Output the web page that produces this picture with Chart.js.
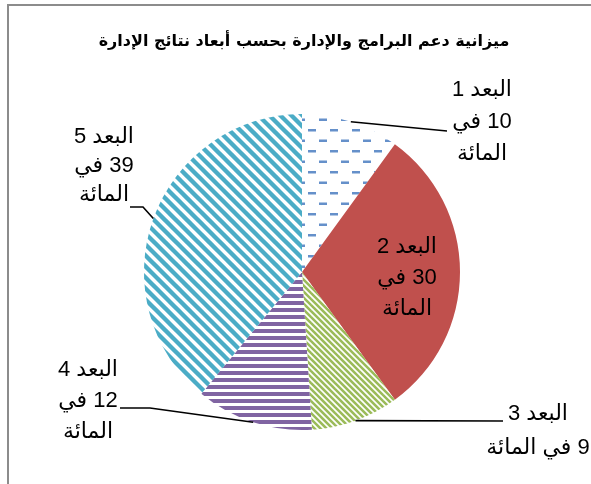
<!DOCTYPE html>
<html>
<head>
<meta charset="utf-8">
<script src="https://cdn.jsdelivr.net/npm/chart.js@4.4.1/dist/chart.umd.min.js"></script>
<style>
  html, body { margin: 0; padding: 0; background: #fff; }
  #wrap { position: relative; width: 591px; height: 484px; overflow: hidden; }
  #frame { position: absolute; left: 7px; top: 4px; right: -5px; bottom: -5px;
           border-left: 2px solid #8c8c8c; border-top: 2px solid #8c8c8c; }
  canvas { position: absolute; left: 0; top: 0; }
</style>
</head>
<body>
<div id="wrap">
  <div id="frame"></div>
  <canvas id="budgetPie" width="591" height="484"></canvas>
</div>
<script>
const chartTitle = "ميزانية دعم البرامج والإدارة بحسب أبعاد نتائج الإدارة";
const dimensionNames = ["البعد 1", "البعد 2", "البعد 3", "البعد 4", "البعد 5"];
const budgetShares = [10, 30, 9, 12, 39];
const percentWord = "المائة";
const inWord = "في";

// where each label sits (x centre, first baseline, line step) and its leader line
const labelLayout = [
  { x: 482, y: 96,  step: 32, wrap: true,  leader: [[447, 131]] },
  { x: 407, y: 253, step: 31, wrap: true,  leader: null },
  { x: 538, y: 420, step: 34, wrap: false, leader: [[503, 421]] },
  { x: 88,  y: 376, step: 31, wrap: true,  leader: [[150, 408], [120, 408]] },
  { x: 104, y: 143, step: 29, wrap: true,  leader: [[143, 207], [130, 207]] }
];

const canvas = document.getElementById("budgetPie");
const ctx = canvas.getContext("2d");

function makePattern(w, h, draw) {
  const c = document.createElement("canvas");
  c.width = w; c.height = h;
  const g = c.getContext("2d");
  g.fillStyle = "#fff";
  g.fillRect(0, 0, w, h);
  draw(g);
  return ctx.createPattern(c, "repeat");
}

// "\" stripes, spaced `gap` px horizontally, on a tile of `reps` periods
function diagonal(gap, width, color, reps) {
  const size = gap * reps;
  return makePattern(size, size, function (g) {
    g.strokeStyle = color;
    g.lineWidth = width;
    for (let k = -size - gap; k <= size + gap; k += gap) {
      g.beginPath();
      g.moveTo(k - gap, -gap);
      g.lineTo(k + size + gap, size + gap);
      g.stroke();
    }
  });
}

const fills = [
  makePattern(22, 21, function (g) {
    g.fillStyle = "#6590ca";
    g.fillRect(0, 3, 8, 2.5);
    g.fillRect(11, 13.5, 8, 2.5);
  }),
  "#c0504d",
  diagonal(6, 2.6, "#9bbb59", 4),
  makePattern(8, 7, function (g) {
    g.fillStyle = "#8064a2";
    g.fillRect(0, 0, 8, 4);
  }),
  diagonal(11, 4.4, "#4bacc6", 2)
];

function labelLines(i) {
  const v = budgetShares[i];
  if (labelLayout[i].wrap) {
    return [dimensionNames[i], v + " " + inWord, percentWord];
  }
  return [dimensionNames[i], v + " " + inWord + " " + percentWord];
}

const sliceLabels = {
  id: "sliceLabels",
  afterDatasetsDraw(chart) {
    const c = chart.ctx;
    const arcs = chart.getDatasetMeta(0).data;
    c.save();
    c.direction = "rtl";
    c.fillStyle = "#000";
    c.textAlign = "center";
    c.textBaseline = "alphabetic";

    // title, drawn here so it is not squeezed into the pie's width
    c.font = "bold 16px 'DejaVu Sans', sans-serif";
    c.fillText(chartTitle, 304, 46);

    arcs.forEach(function (arc, i) {
      const lay = labelLayout[i];
      const mid = (arc.startAngle + arc.endAngle) / 2;
      if (lay.leader) {
        c.beginPath();
        c.moveTo(arc.x + Math.cos(mid) * arc.outerRadius, arc.y + Math.sin(mid) * arc.outerRadius);
        lay.leader.forEach(function (p) { c.lineTo(p[0], p[1]); });
        c.strokeStyle = "#000";
        c.lineWidth = 1.6;
        c.stroke();
      }
      c.font = "22px 'Liberation Sans', 'DejaVu Sans', sans-serif";
      labelLines(i).forEach(function (t, j) {
        c.fillText(t, lay.x, lay.y + j * lay.step);
      });
    });
    c.restore();
  }
};

new Chart(ctx, {
  type: "pie",
  data: {
    labels: dimensionNames,
    datasets: [{
      data: budgetShares,
      backgroundColor: fills,
      borderWidth: 0
    }]
  },
  options: {
    responsive: false,
    animation: false,
    layout: { padding: { left: 144, right: 131, top: 114, bottom: 54 } },
    plugins: {
      legend: { display: false },
      tooltip: { enabled: false },
      title: { display: false }
    }
  },
  plugins: [sliceLabels]
});
</script>
</body>
</html>
